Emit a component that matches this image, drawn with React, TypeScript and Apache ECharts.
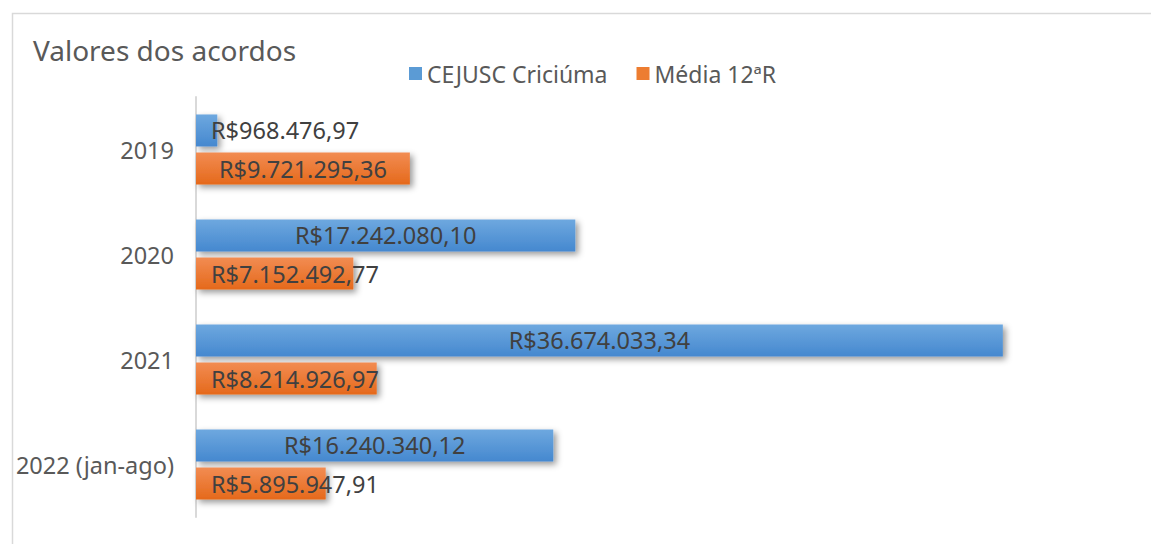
import React, { useEffect, useRef } from "react";
import * as echarts from "echarts";

const categories = ["2019", "2020", "2021", "2022 (jan-ago)"];
const cejuscValues = [968476.97, 17242080.1, 36674033.34, 16240340.12];
const mediaValues = [9721295.36, 7152492.77, 8214926.97, 5895947.91];
const seriesNames = ["CEJUSC Criciúma", "Média 12ªR"];

const FONT = "'Noto Sans', 'Open Sans', sans-serif";
const TEXT = "#595959";

function formatBRL(v: number): string {
  const fixed = v.toFixed(2);
  const [intPart, dec] = fixed.split(".");
  const withDots = intPart.replace(/\B(?=(\d{3})+(?!\d))/g, ".");
  return "R$" + withDots + "," + dec;
}

function labelFor(v: number) {
  const small = v < 9000000;
  return {
    value: v,
    label: small
      ? { position: [15, "50%"], align: "left", verticalAlign: "middle" }
      : { position: "inside" },
  };
}

export default function App() {
  const ref = useRef<HTMLDivElement>(null);
  useEffect(() => {
    if (!ref.current) return;
    const chart = echarts.init(ref.current, undefined, { renderer: "svg" });
    const blue = new echarts.graphic.LinearGradient(0, 0, 0, 1, [
      { offset: 0, color: "#6ea8df" },
      { offset: 1, color: "#4588cf" },
    ]);
    const orange = new echarts.graphic.LinearGradient(0, 0, 0, 1, [
      { offset: 0, color: "#f28c52" },
      { offset: 1, color: "#e5691b" },
    ]);
    const commonLabel = {
      show: true,
      color: "#404040",
      fontFamily: FONT,
      fontSize: 23.5,
      formatter: (p: any) => formatBRL(p.value),
    };
    const shadow = {
      shadowBlur: 6,
      shadowColor: "rgba(0,0,0,0.4)",
      shadowOffsetX: 3,
      shadowOffsetY: 3,
    };
    chart.setOption({
      animation: false,
      backgroundColor: "#ffffff",
      textStyle: { fontFamily: FONT },
      title: {
        text: "Valores dos acordos",
        left: 28,
        top: 31,
        textStyle: { fontFamily: FONT, fontSize: 28, fontWeight: "normal", color: TEXT },
      },
      legend: {
        left: 404,
        top: 57,
        itemWidth: 13,
        itemHeight: 13,
        itemGap: 29,
        icon: "rect",
        textStyle: { fontFamily: FONT, fontSize: 23, color: TEXT },
        data: [
          { name: seriesNames[0], itemStyle: { color: "#5b9bd5" } },
          { name: seriesNames[1], itemStyle: { color: "#ed7d31" } },
        ],
      },
      graphic: [
        {
          type: "rect",
          shape: { x: 12.5, y: 13.5, width: 1200, height: 600 },
          style: { fill: "none", stroke: "#d9d9d9", lineWidth: 1.5 },
          silent: true,
        },
      ],
      grid: { left: 196, right: 75, top: 97, bottom: 27, containLabel: false },
      xAxis: {
        type: "value",
        min: 0,
        max: 40000000,
        show: false,
        splitLine: { show: false },
      },
      yAxis: {
        type: "category",
        inverse: true,
        data: categories,
        axisLine: { show: true, lineStyle: { color: "#d9d9d9", width: 2 } },
        axisTick: { show: false },
        axisLabel: { color: TEXT, fontFamily: FONT, fontSize: 23.5, margin: 22 },
      },
      series: [
        {
          name: seriesNames[0],
          type: "bar",
          barWidth: 32,
          barGap: "19%",
          data: cejuscValues.map(labelFor),
          itemStyle: { color: blue, ...shadow },
          label: commonLabel,
        },
        {
          name: seriesNames[1],
          type: "bar",
          barWidth: 32,
          barGap: "19%",
          data: mediaValues.map(labelFor),
          itemStyle: { color: orange, ...shadow },
          label: commonLabel,
        },
      ],
    });
    return () => chart.dispose();
  }, []);
  return (
    <div
      ref={ref}
      style={{ position: "fixed", left: 0, top: 0, width: 1151, height: 544, background: "#fff" }}
    />
  );
}
